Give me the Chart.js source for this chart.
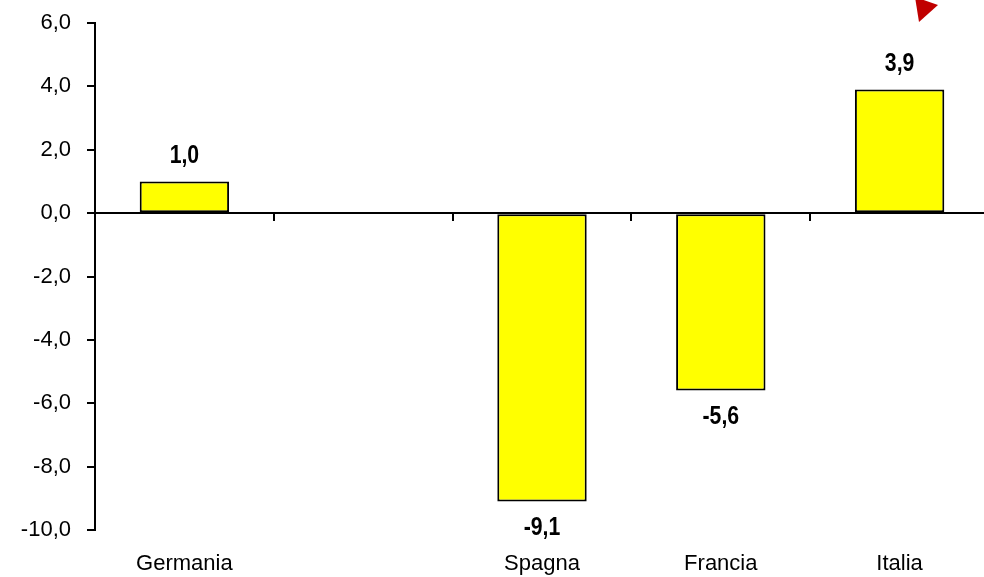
<!DOCTYPE html>
<html>
<head>
<meta charset="utf-8">
<script src="https://cdn.jsdelivr.net/npm/chart.js@4"></script>
<style>
  html, body { margin: 0; padding: 0; background: #fff; overflow: hidden; }
  canvas { display: block; }
</style>
</head>
<body>
<canvas id="grafico" width="994" height="577"></canvas>
<script>
const paesi = ["Germania", "", "Spagna", "Francia", "Italia"];
const valori = [1.0, null, -9.1, -5.6, 3.9];
const scalaY = { min: -10, max: 6, passo: 2 };

const fmt = v => v.toFixed(1).replace(".", ",");
const famiglia = "'Liberation Sans', Arial, sans-serif";

// etichette dei valori sopra/sotto le barre (un po' strette, come l'originale)
const etichette = {
  id: "etichette",
  afterDatasetsDraw(chart) {
    const ctx = chart.ctx;
    const meta = chart.getDatasetMeta(0);
    const sx = 0.85;
    ctx.save();
    ctx.font = "bold 25px " + famiglia;
    ctx.fillStyle = "#000";
    ctx.textAlign = "center";
    ctx.textBaseline = "middle";
    meta.data.forEach((bar, i) => {
      const v = valori[i];
      if (v === null) return;
      const y = v >= 0 ? bar.y - 25 : bar.y + 27;
      ctx.save();
      ctx.translate(bar.x, y);
      ctx.scale(sx, 1);
      ctx.fillText(fmt(v), 0, 0);
      ctx.restore();
    });
    ctx.restore();
  }
};

// triangolo rosso in alto a destra
const freccia = {
  id: "freccia",
  afterDraw(chart) {
    const ctx = chart.ctx;
    ctx.save();
    ctx.fillStyle = "#c00000";
    ctx.beginPath();
    ctx.moveTo(915, -3);
    ctx.lineTo(938, 5);
    ctx.lineTo(919, 22);
    ctx.closePath();
    ctx.fill();
    ctx.restore();
  }
};

new Chart(document.getElementById("grafico"), {
  type: "bar",
  data: {
    labels: paesi,
    datasets: [{
      data: valori,
      backgroundColor: "#ffff00",
      borderColor: "#000",
      borderWidth: 2,
      borderSkipped: false,
      barPercentage: 0.5,
      categoryPercentage: 1
    }]
  },
  plugins: [etichette, freccia],
  options: {
    responsive: false,
    animation: false,
    devicePixelRatio: 1,
    layout: { padding: { top: 23, right: 5, left: 0, bottom: 0 } },
    plugins: { legend: { display: false }, tooltip: { enabled: false } },
    scales: {
      x: {
        position: "bottom",
        grid: { display: false, drawTicks: false },
        border: { display: false },
        ticks: {
          color: "#000",
          padding: 21,
          autoSkip: false,
          font: { family: famiglia, size: 22 },
          maxRotation: 0
        },
        afterFit: s => { s.height = 47; s.paddingLeft = 0; s.paddingRight = 0; }
      },
      asse0: {
        type: "category",
        axis: "x",
        position: { y: 0 },
        offset: true,
        grid: { offset: true, drawOnChartArea: false, drawTicks: true, tickLength: 7, color: "#000", lineWidth: 2 },
        border: { display: true, color: "#000", width: 2 },
        ticks: { display: false },
        afterFit: s => { s.height = 0; s.paddingLeft = 0; s.paddingRight = 0; }
      },
      y: {
        min: scalaY.min,
        max: scalaY.max,
        grid: { drawOnChartArea: false, drawTicks: true, tickLength: 8, color: "#000", lineWidth: 2 },
        border: { display: true, color: "#000", width: 2 },
        ticks: {
          stepSize: scalaY.passo,
          color: "#000",
          padding: 16,
          font: { family: famiglia, size: 22 },
          callback: v => fmt(v)
        },
        afterFit: s => { s.width = 95; s.paddingTop = 0; s.paddingBottom = 0; }
      }
    }
  }
});
</script>
</body>
</html>
